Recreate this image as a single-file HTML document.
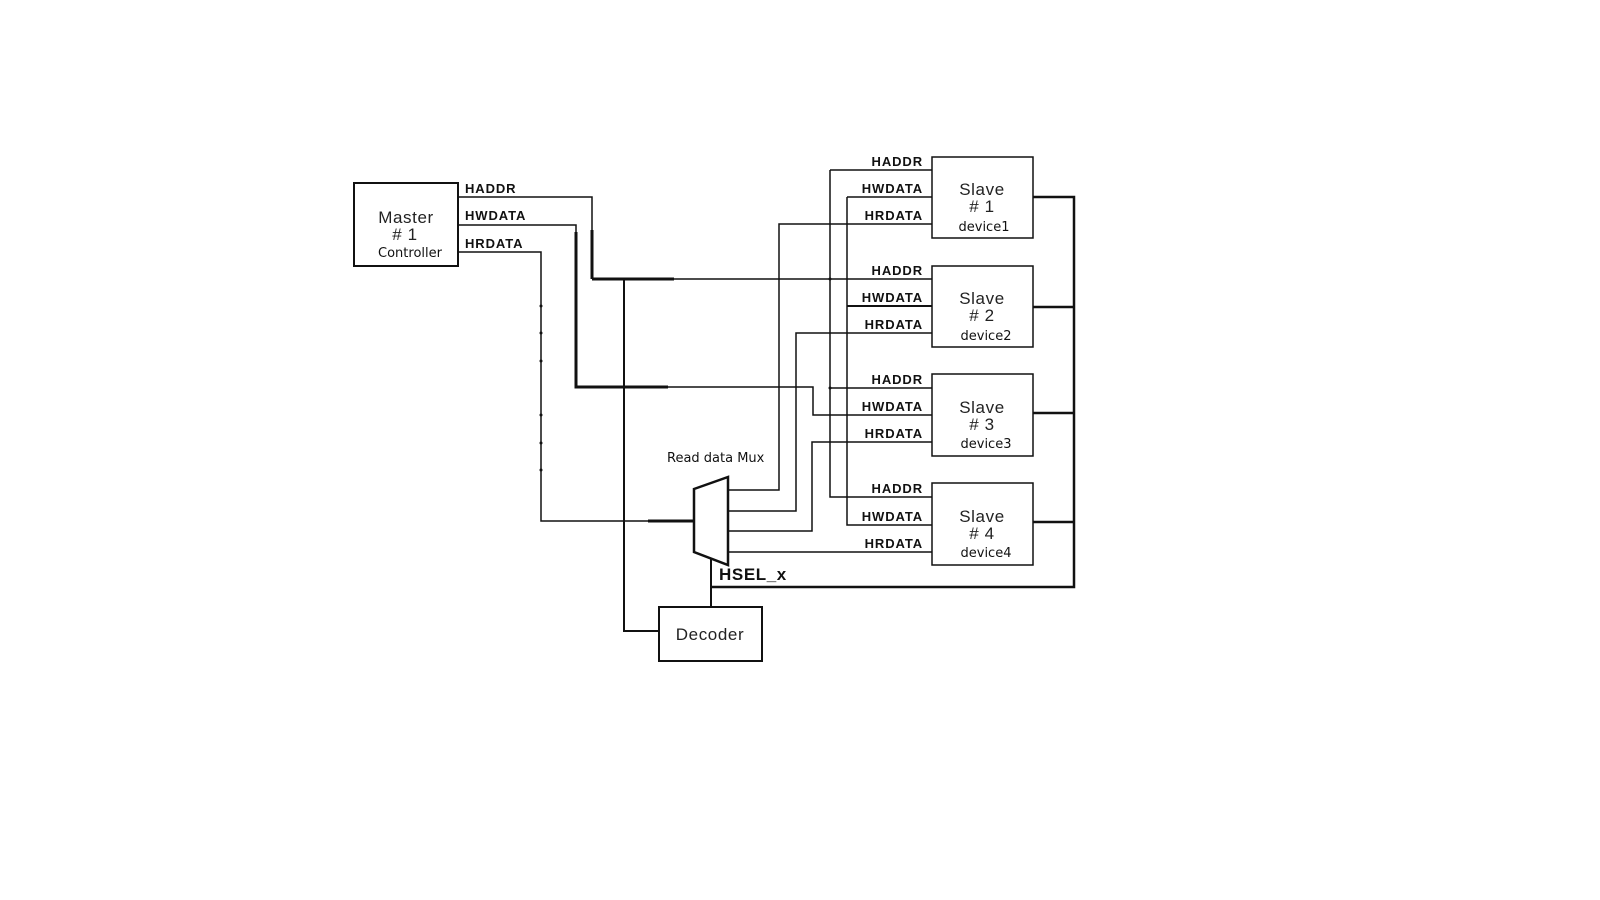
<!DOCTYPE html>
<html><head><meta charset="utf-8"><style>
html,body{margin:0;padding:0;background:#fff;}
svg{display:block}
.l{font-family:"Liberation Sans",Arial,sans-serif;font-weight:bold;font-size:13px;letter-spacing:0.9px;fill:#111;}
.t{font-family:"Liberation Sans",Arial,sans-serif;font-size:17px;letter-spacing:0.6px;fill:#222;}
.s{font-family:"DejaVu Sans","Liberation Sans",sans-serif;font-size:13px;fill:#111;}
</style></head><body>
<svg width="1600" height="900" viewBox="0 0 1600 900" xmlns="http://www.w3.org/2000/svg">
<g fill="none" stroke="#111" stroke-width="1.5">
<rect x="354" y="183" width="104" height="83" stroke-width="2"/>
<polyline points="458,197 592,197 592,279"/>
<polyline points="592,279 674,279" stroke-width="3"/>
<polyline points="592,230 592,279" stroke-width="3"/>
<polyline points="674,279 932,279"/>
<polyline points="830,170 932,170"/>
<polyline points="830,170 830,497 932,497"/>
<line x1="830" y1="388" x2="932" y2="388"/>
<polyline points="458,225 576,225 576,232"/>
<polyline points="576,232 576,387 668,387" stroke-width="3"/>
<polyline points="668,387 813,387 813,415 932,415"/>
<polyline points="847,197 932,197"/>
<polyline points="847,197 847,525 932,525"/>
<line x1="847" y1="306" x2="932" y2="306" stroke-width="2"/>
<polyline points="458,252 541,252 541,521 648,521"/>
<polyline points="648,521 694,521" stroke-width="3"/>
<polyline points="624,279 624,631 659,631" stroke-width="2"/>
<polyline points="932,224 779,224 779,490 728,490"/>
<polyline points="932,333 796,333 796,511 728,511"/>
<polyline points="932,442 812,442 812,531 728,531"/>
<polyline points="932,552 728,552"/>
<polygon points="694,489 728,477 728,565 694,552" stroke-width="2.5"/>
<rect x="932" y="157" width="101" height="81"/>
<rect x="932" y="266" width="101" height="81"/>
<rect x="932" y="374" width="101" height="82"/>
<rect x="932" y="483" width="101" height="82"/>
<polyline points="1033,197 1074,197 1074,587 711,587" stroke-width="2.5"/>
<line x1="1033" y1="307" x2="1074" y2="307" stroke-width="2.5"/>
<line x1="1033" y1="413" x2="1074" y2="413" stroke-width="2.5"/>
<line x1="1033" y1="522" x2="1074" y2="522" stroke-width="2.5"/>
<line x1="711" y1="559" x2="711" y2="607" stroke-width="2"/>
<rect x="659" y="607" width="103" height="54" stroke-width="2"/>
</g>
<g fill="#111">
<circle cx="541" cy="306" r="1.5"/><circle cx="541" cy="333" r="1.5"/><circle cx="541" cy="361" r="1.5"/>
<circle cx="541" cy="415" r="1.5"/><circle cx="541" cy="443" r="1.5"/><circle cx="541" cy="470" r="1.5"/>
<circle cx="830" cy="279" r="1.5"/><circle cx="830" cy="388" r="1.5"/>
</g>
<text class="t" x="406" y="223" text-anchor="middle">Master</text>
<text class="t" x="405" y="240" text-anchor="middle"># 1</text>
<text class="s" x="410" y="257" text-anchor="middle">Controller</text>
<text class="l" x="465" y="193">HADDR</text>
<text class="l" x="465" y="220">HWDATA</text>
<text class="l" x="465" y="248">HRDATA</text>
<g class="l" text-anchor="end">
<text x="923" y="166">HADDR</text><text x="923" y="193">HWDATA</text><text x="923" y="220">HRDATA</text>
<text x="923" y="275">HADDR</text><text x="923" y="302">HWDATA</text><text x="923" y="329">HRDATA</text>
<text x="923" y="384">HADDR</text><text x="923" y="411">HWDATA</text><text x="923" y="438">HRDATA</text>
<text x="923" y="493">HADDR</text><text x="923" y="521">HWDATA</text><text x="923" y="548">HRDATA</text>
</g>
<g text-anchor="middle">
<text class="t" x="982" y="195">Slave</text><text class="t" x="982" y="212"># 1</text><text class="s" x="984" y="231">device1</text>
<text class="t" x="982" y="304">Slave</text><text class="t" x="982" y="321"># 2</text><text class="s" x="986" y="340">device2</text>
<text class="t" x="982" y="413">Slave</text><text class="t" x="982" y="430"># 3</text><text class="s" x="986" y="448">device3</text>
<text class="t" x="982" y="522">Slave</text><text class="t" x="982" y="539"># 4</text><text class="s" x="986" y="557">device4</text>
</g>
<text class="s" x="667" y="462">Read data Mux</text>
<text x="719" y="580" style="font-family:'Liberation Sans',Arial,sans-serif;font-weight:bold;font-size:17px;letter-spacing:0.6px;fill:#111">HSEL_x</text>
<text class="t" x="710" y="640" text-anchor="middle">Decoder</text>
</svg>
</body></html>
